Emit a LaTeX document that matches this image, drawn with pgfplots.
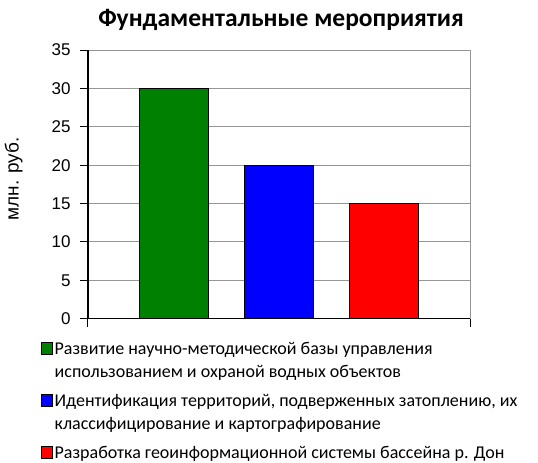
\documentclass[border=0pt]{standalone}
\usepackage{fontspec}
\setmainfont{Carlito}
\newfontfamily\tickfont{Liberation Sans}
\usepackage{pgfplots}
\pgfplotsset{compat=1.18}
\definecolor{gridgray}{RGB}{150,150,150}
\definecolor{xlgreen}{RGB}{0,128,0}
\definecolor{xlblue}{RGB}{0,0,255}
\definecolor{xlred}{RGB}{255,0,0}
\newcommand{\nextline}[1]{\rlap{\raisebox{-23pt}[0pt][0pt]{#1}}}
\begin{document}
\begin{tikzpicture}[x=1pt,y=1pt]
\path (0,0) rectangle (538,463);
\begin{axis}[
  at={(88pt,144.3pt)}, anchor=south west,
  scale only axis, width=382pt, height=268.7pt,
  xmin=0, xmax=3, ymin=0, ymax=35,
  axis x line*=bottom, axis y line*=left,
  axis line style={black, line width=1.2pt, -},
  xtick={0,3}, xticklabels={},
  extra x ticks={3}, extra x tick labels={},
  extra x tick style={grid=major, major tick length=0pt},
  ytick={0,5,...,35},
  ymajorgrids,
  grid style={gridgray, line width=1pt},
  tick align=outside, major tick length=8pt,
  tick style={black, line width=1pt},
  yticklabel style={font=\tickfont\fontsize{17}{17}\selectfont, xshift=-6pt},
  /pgf/number format/assume math mode=true,
  ylabel={\tickfont\fontsize{19}{19}\selectfont млн. руб.},
  ylabel style={at={(rel axis cs:0,0.52)}, anchor=south, yshift=62pt},
  title={\bfseries Фундаментальные мероприятия},
  title style={font=\fontsize{25.5}{25.5}\selectfont, at={(0.5,1)}, anchor=base, yshift=18pt, xshift=2pt},
  ybar, bar width=0.542, bar shift=0pt,
  every axis plot/.append style={draw=black, line width=1pt},
  legend style={at={(-0.1257,-0.074)}, anchor=north west, draw=none, fill=none,
    font=\fontsize{18}{20}\selectfont, inner sep=0pt, row sep=0pt,
    column sep=0pt, nodes={inner ysep=0pt, inner xsep=1.5pt, anchor=base west}},
  legend cell align=left,
]
\addplot[fill=xlgreen, forget plot] coordinates {(0.679,30)};
\addplot[fill=xlblue, forget plot] coordinates {(1.5,20)};
\addplot[fill=xlred, forget plot] coordinates {(2.325,15)};
\addlegendimage{legend image code/.code={\draw[draw opacity=0, fill opacity=0] (0pt,-36pt) rectangle (12pt,15pt); \draw[fill=xlgreen, draw=black, line width=0.9pt] (0.5pt,0pt) rectangle (12pt,11.5pt);}}
\addlegendentry{\nextline{использованием и охраной водных объектов}Развитие научно-методической базы управления}
\addlegendimage{legend image code/.code={\draw[draw opacity=0, fill opacity=0] (0pt,-36pt) rectangle (12pt,15pt); \draw[fill=xlblue, draw=black, line width=0.9pt] (0.5pt,0pt) rectangle (12pt,11.5pt);}}
\addlegendentry{\nextline{классифицирование и картографирование}Идентификация территорий, подверженных затоплению, их}
\addlegendimage{legend image code/.code={\draw[draw opacity=0, fill opacity=0] (0pt,-4pt) rectangle (12pt,15pt); \draw[fill=xlred, draw=black, line width=0.9pt] (0.5pt,0pt) rectangle (12pt,11.5pt);}}
\addlegendentry{Разработка геоинформационной системы бассейна р. Дон}
\end{axis}
\end{tikzpicture}
\end{document}
